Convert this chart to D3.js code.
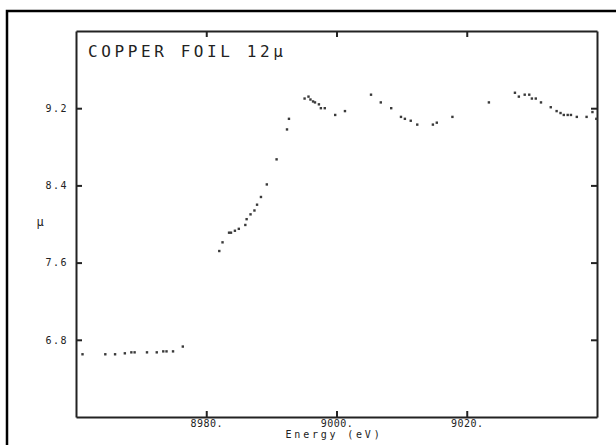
<!DOCTYPE html>
<html>
<head>
<meta charset="utf-8">
<script src="https://cdn.jsdelivr.net/npm/d3@7"></script>
<style>
  body { margin: 0; background: #fff; }
  svg { display: block; }
  .axis path, .axis line { stroke: #222; stroke-width: 2; }
  .axis text { font-family: "DejaVu Sans Mono", monospace; fill: #222; }
</style>
</head>
<body>
<svg id="chart" width="616" height="445"></svg>
<script>
// energy (eV) and absorption
const energy = [
  8961.0, 8964.5, 8966.0, 8967.5, 8968.5, 8969.0, 8970.9, 8972.4, 8973.4, 8973.9,
  8974.9, 8976.4, 8982.0, 8982.5, 8983.5, 8983.8, 8984.4, 8985.0, 8986.0, 8986.2,
  8986.8, 8987.4, 8987.8, 8988.4, 8989.3, 8990.8, 8992.4, 8992.7, 8995.1, 8995.7,
  8996.0, 8996.4, 8996.7, 8997.3, 8997.6, 8998.2, 8999.8, 9001.3, 9005.3, 9006.8,
  9008.4, 9009.9, 9010.5, 9011.4, 9012.4, 9014.8, 9015.4, 9017.8, 9023.4, 9027.4,
  9028.0, 9028.9, 9029.6, 9030.0, 9030.6, 9031.4, 9032.9, 9033.8, 9034.4, 9034.9,
  9035.5, 9036.0, 9036.9, 9038.4, 9039.3, 9039.9
];
const mu = [
  6.65, 6.65, 6.65, 6.66, 6.67, 6.67, 6.67, 6.67, 6.68, 6.68,
  6.68, 6.73, 7.72, 7.81, 7.91, 7.91, 7.93, 7.95, 7.99, 8.05,
  8.10, 8.14, 8.20, 8.28, 8.41, 8.67, 8.98, 9.09, 9.30, 9.32,
  9.29, 9.27, 9.26, 9.24, 9.20, 9.20, 9.13, 9.17, 9.34, 9.26,
  9.20, 9.11, 9.09, 9.07, 9.03, 9.03, 9.05, 9.11, 9.26, 9.36,
  9.32, 9.34, 9.34, 9.30, 9.30, 9.26, 9.21, 9.17, 9.15, 9.13,
  9.13, 9.13, 9.11, 9.11, 9.16, 9.09
];
const xTicks = [8980, 9000, 9020];
const yTicks = [6.8, 7.6, 8.4, 9.2];
const title = "COPPER FOIL 12\u03bc";

const svg = d3.select("#chart");

// outer frame of the scanned page
svg.append("rect")
  .attr("x", 7).attr("y", 11)
  .attr("width", 620).attr("height", 450)
  .attr("fill", "none")
  .attr("stroke", "#000")
  .attr("stroke-width", 2.5);

const plotLeft = 76, plotRight = 597, plotTop = 31, plotBottom = 417;

const x = d3.scaleLinear().domain([8960, 9040]).range([plotLeft, plotRight]);
const y = d3.scaleLinear().domain([6.0, 10.0]).range([plotBottom, plotTop]);

// axes with inward ticks
svg.append("g")
  .attr("class", "axis")
  .attr("transform", `translate(${plotLeft},0)`)
  .call(d3.axisLeft(y).tickValues(yTicks).tickSizeInner(-6).tickSizeOuter(0)
    .tickPadding(8).tickFormat(d3.format(".1f")))
  .call(g => g.selectAll("text").attr("font-size", 10).attr("letter-spacing", 1.5));

svg.append("g")
  .attr("class", "axis")
  .attr("transform", `translate(0,${plotBottom})`)
  .call(d3.axisBottom(x).tickValues(xTicks).tickSizeInner(-6).tickSizeOuter(0)
    .tickPadding(3).tickFormat(d => d + "."))
  .call(g => g.selectAll("text").attr("font-size", 10).attr("letter-spacing", 0.5));

svg.append("g")
  .attr("class", "axis")
  .attr("transform", `translate(0,${plotTop})`)
  .call(d3.axisTop(x).tickValues(xTicks).tickSizeInner(-6).tickSizeOuter(0).tickFormat(""));

svg.append("g")
  .attr("class", "axis")
  .attr("transform", `translate(${plotRight},0)`)
  .call(d3.axisRight(y).tickValues(yTicks).tickSizeInner(-6).tickSizeOuter(0).tickFormat(""));

// data points
svg.append("g")
  .selectAll("rect")
  .data(energy.map((e, i) => [e, mu[i]]))
  .join("rect")
  .attr("x", d => x(d[0]) - 1.2)
  .attr("y", d => y(d[1]) - 1.2)
  .attr("width", 2.4)
  .attr("height", 2.4)
  .attr("fill", "#3a3a3a");

// title
svg.append("text")
  .attr("x", 88)
  .attr("y", 57)
  .attr("font-family", "DejaVu Sans Mono, monospace")
  .attr("font-size", 16)
  .attr("letter-spacing", 3.6)
  .attr("fill", "#222")
  .text(title);

// axis labels
svg.append("text")
  .attr("x", 334)
  .attr("y", 438)
  .attr("text-anchor", "middle")
  .attr("font-family", "DejaVu Sans Mono, monospace")
  .attr("font-size", 10)
  .attr("letter-spacing", 2.8)
  .attr("fill", "#222")
  .text("Energy (eV)");

svg.append("text")
  .attr("x", 40)
  .attr("y", 226)
  .attr("text-anchor", "middle")
  .attr("font-family", "DejaVu Sans Mono, monospace")
  .attr("font-size", 12)
  .attr("fill", "#222")
  .text("\u03bc");
</script>
</body>
</html>
